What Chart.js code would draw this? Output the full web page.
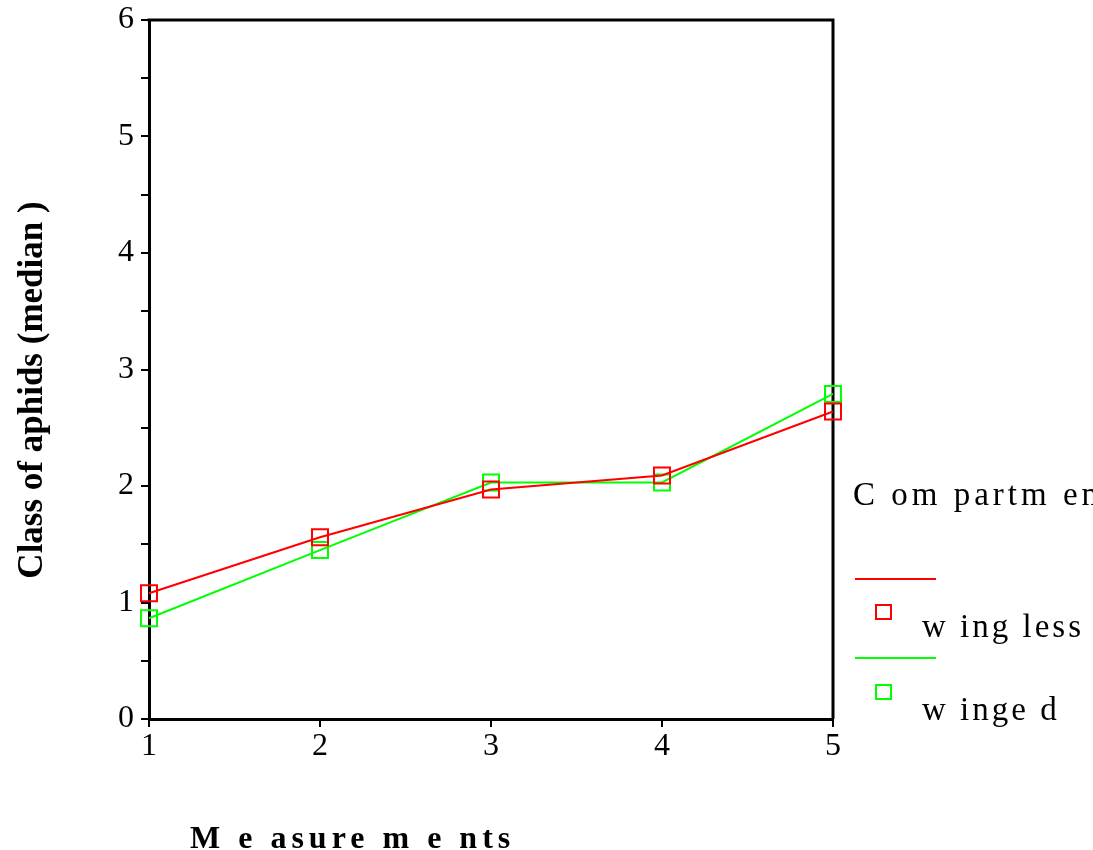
<!DOCTYPE html>
<html>
<head>
<meta charset="utf-8">
<script src="https://cdn.jsdelivr.net/npm/chart.js@4"></script>
<style>
  html, body { margin: 0; padding: 0; background: #fff; overflow: hidden; }
  canvas { display: block; }
</style>
</head>
<body>
<canvas id="c" width="1093" height="850"></canvas>
<script>
// Categories, series and labels
const measurements = ['1', '2', '3', '4', '5'];
const wingless = [1.08, 1.56, 1.97, 2.09, 2.64];
const winged = [0.865, 1.45, 2.03, 2.03, 2.79];
const seriesNames = ['w ing less', 'w inge d'];
const seriesColors = ['#ff0000', '#00ff00'];
const yTickLabels = [0, 1, 2, 3, 4, 5, 6];
const legendTitle = 'C om partm ent';
const xTitle = 'M e asure m e nts';
const yTitle = 'Class of aphids (median )';

const SERIF = '"Liberation Serif", "Times New Roman", serif';

// Plot frame, axis titles and the side legend
const frameAndText = {
  id: 'frameAndText',
  beforeDatasetsDraw(chart) {
    const { ctx, chartArea: a } = chart;
    ctx.save();
    ctx.strokeStyle = '#000';
    ctx.lineWidth = 3;
    ctx.beginPath();
    ctx.moveTo(a.left - 1.5, a.top);
    ctx.lineTo(a.right, a.top);
    ctx.lineTo(a.right, a.bottom);
    ctx.stroke();
    ctx.restore();
  },
  afterDraw(chart) {
    const { ctx } = chart;
    ctx.save();
    ctx.fillStyle = '#000';

    // y title
    ctx.save();
    ctx.translate(42, 390);
    ctx.rotate(-Math.PI / 2);
    ctx.font = 'bold 35px ' + SERIF;
    ctx.textAlign = 'center';
    ctx.textBaseline = 'alphabetic';
    ctx.fillText(yTitle, 0, 0);
    ctx.restore();

    // x title
    ctx.font = 'bold 32px ' + SERIF;
    ctx.textAlign = 'left';
    ctx.textBaseline = 'alphabetic';
    ctx.letterSpacing = '5px';
    ctx.fillText(xTitle, 190, 848);

    // legend
    ctx.font = '33px ' + SERIF;
    ctx.letterSpacing = '4px';
    ctx.fillText(legendTitle, 853, 505);

    ctx.letterSpacing = '3px';
    chart.data.datasets.forEach((ds, i) => {
      const lineY = 579 + i * 79;
      const boxY = 612 + i * 80;
      const textY = 637 + i * 83;
      ctx.strokeStyle = ds.borderColor;
      ctx.lineWidth = 2;
      ctx.beginPath();
      ctx.moveTo(855, lineY);
      ctx.lineTo(936, lineY);
      ctx.stroke();
      ctx.strokeRect(876, boxY - 7, 15, 14);
      ctx.fillStyle = '#000';
      ctx.fillText(ds.label, 922, textY);
    });
    ctx.restore();
  }
};

const axisGrid = {
  display: true,
  drawOnChartArea: false,
  drawTicks: true,
  tickLength: 8,
  color: '#000',
  lineWidth: 2
};
const axisBorder = { display: true, color: '#000', width: 3 };

function series(i, values) {
  return {
    label: seriesNames[i],
    data: values,
    borderColor: seriesColors[i],
    backgroundColor: 'rgba(0,0,0,0)',
    borderWidth: 2,
    tension: 0,
    fill: false,
    pointStyle: 'rect',
    pointRadius: 11.3,
    pointHoverRadius: 11.3,
    pointBorderWidth: 2,
    pointBorderColor: seriesColors[i],
    pointBackgroundColor: 'rgba(0,0,0,0)',
    clip: false
  };
}

new Chart(document.getElementById('c'), {
  type: 'line',
  data: {
    labels: measurements,
    datasets: [series(0, wingless), series(1, winged)]
  },
  options: {
    responsive: false,
    animation: false,
    devicePixelRatio: 1,
    layout: { padding: { top: 20, right: 260, left: 0, bottom: 0 } },
    plugins: { legend: { display: false }, tooltip: { enabled: false } },
    scales: {
      x: {
        type: 'category',
        offset: false,
        grid: axisGrid,
        border: axisBorder,
        ticks: {
          color: '#000',
          font: { family: SERIF, size: 32 },
          padding: 0,
          maxRotation: 0,
          autoSkip: false
        },
        afterFit(s) { s.height = 131; s.paddingLeft = 0; s.paddingRight = 0; }
      },
      y: {
        min: 0,
        max: 6,
        grid: axisGrid,
        border: axisBorder,
        ticks: {
          stepSize: 0.5,
          autoSkip: false,
          color: '#000',
          font: { family: SERIF, size: 32 },
          padding: 7,
          callback: v => yTickLabels.includes(v) ? String(v) : ''
        },
        afterFit(s) { s.width = 149; s.paddingTop = 0; s.paddingBottom = 0; }
      }
    }
  },
  plugins: [frameAndText]
});
</script>
</body>
</html>
